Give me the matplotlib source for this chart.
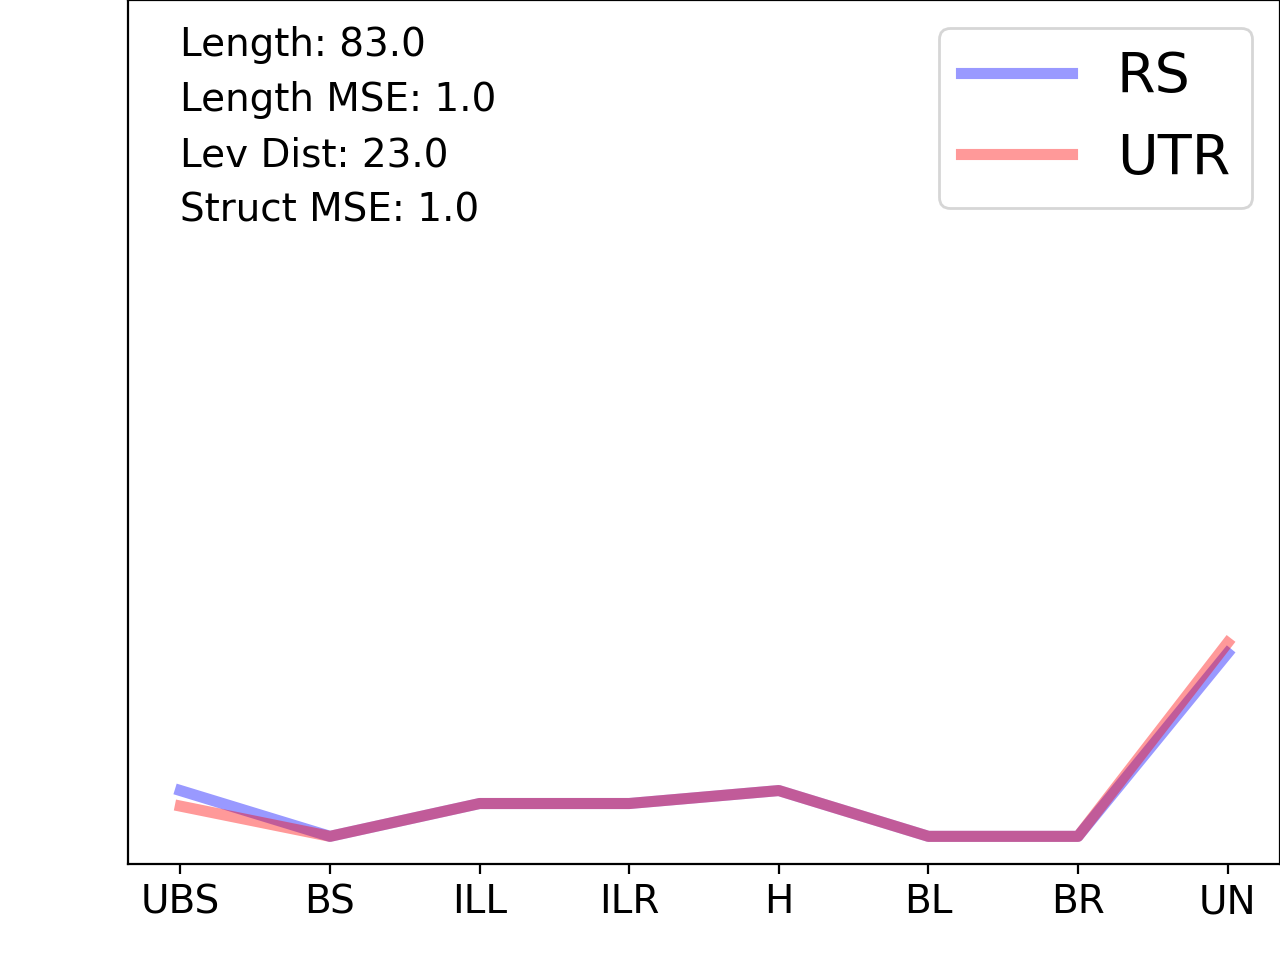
import matplotlib
matplotlib.use("Agg")
import matplotlib.pyplot as plt

# kategorier och värden
categories = ["UBS", "BS", "ILL", "ILR", "H", "BL", "BR", "UN"]
rs_values = [0.085, 0.032, 0.070, 0.070, 0.085, 0.032, 0.032, 0.244]
utr_values = [0.067, 0.032, 0.070, 0.070, 0.085, 0.032, 0.032, 0.256]
info_lines = ["Length: 83.0", "Length MSE: 1.0", "Lev Dist: 23.0", "Struct MSE: 1.0"]

fig = plt.figure(figsize=(6.4, 4.8), dpi=200)
ax = fig.add_axes([0.1, 0.1, 0.9, 0.9])

x = list(range(len(categories)))
ax.plot(x, rs_values, color="blue", alpha=0.4, linewidth=4, label="RS")
ax.plot(x, utr_values, color="red", alpha=0.4, linewidth=4, label="UTR")

ax.set_ylim(0, 1)
ax.set_yticks([])
ax.set_xticks(x)
ax.set_xticklabels(categories, fontsize=14)

# textrader uppe till vänster
for i, line in enumerate(info_lines):
    ax.text(0.045, 0.948 - i * 0.064, line, transform=ax.transAxes,
            fontsize=14, va="center", ha="left")

ax.legend(loc="upper right", fontsize=20)

plt.savefig("out.png", dpi=200)
